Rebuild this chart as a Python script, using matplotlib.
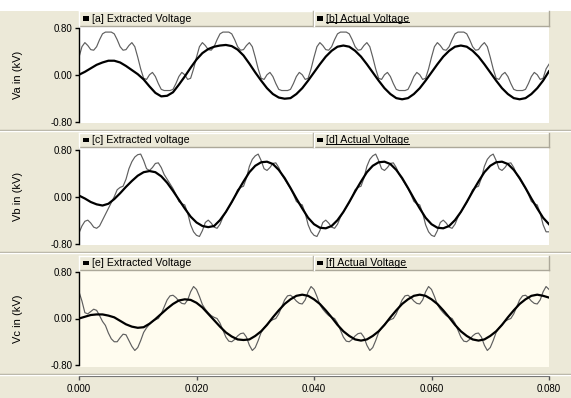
import numpy as np
import matplotlib
matplotlib.use('Agg')
import matplotlib.pyplot as plt
from matplotlib.patches import Rectangle
from matplotlib.lines import Line2D

plt.rcParams['font.family'] = ['Liberation Sans', 'DejaVu Sans']

# sample times in ms: distorted traces every 0.5 ms, smooth traces every 1 ms
t_fine = np.arange(0, 80.25, 0.5)
t_coarse = np.arange(0, 80.5, 1.0)

# ---- Va (kV) ----
va_thin = [
    0.30, 0.48, 0.55, 0.50, 0.43, 0.42, 0.48, 0.60, 0.70, 0.73,
    0.73, 0.73, 0.70, 0.60, 0.48, 0.42, 0.43, 0.50, 0.55, 0.48,
    0.30, 0.10, -0.06, -0.08, 0.00, 0.04, -0.03, -0.15, -0.25, -0.27,
    -0.27, -0.27, -0.25, -0.15, -0.03, 0.04, 0.00, -0.08, -0.06, 0.10,
    0.30, 0.48, 0.55, 0.50, 0.43, 0.42, 0.48, 0.60, 0.70, 0.73,
    0.73, 0.73, 0.70, 0.60, 0.48, 0.42, 0.43, 0.50, 0.55, 0.48,
    0.30, 0.10, -0.06, -0.08, 0.00, 0.04, -0.03, -0.15, -0.25, -0.27,
    -0.27, -0.27, -0.25, -0.15, -0.03, 0.04, 0.00, -0.08, -0.06, 0.10,
    0.30, 0.48, 0.55, 0.50, 0.43, 0.42, 0.48, 0.60, 0.70, 0.73,
    0.73, 0.73, 0.70, 0.60, 0.48, 0.42, 0.43, 0.50, 0.55, 0.48,
    0.30, 0.10, -0.06, -0.08, 0.00, 0.04, -0.03, -0.15, -0.25, -0.27,
    -0.27, -0.27, -0.25, -0.15, -0.03, 0.04, 0.00, -0.08, -0.06, 0.10,
    0.30, 0.48, 0.55, 0.50, 0.43, 0.42, 0.48, 0.60, 0.70, 0.73,
    0.73, 0.73, 0.70, 0.60, 0.48, 0.42, 0.43, 0.50, 0.55, 0.48,
    0.30, 0.10, -0.06, -0.08, 0.00, 0.04, -0.03, -0.15, -0.25, -0.27,
    -0.27, -0.27, -0.25, -0.15, -0.03, 0.04, 0.00, -0.08, -0.06, 0.10,
    0.18]
va_thick = [
    0.00, 0.05, 0.11, 0.17, 0.21, 0.24, 0.24, 0.21, 0.15, 0.08,
    0.01, -0.08, -0.20, -0.31, -0.37, -0.36, -0.30, -0.17, -0.03, 0.12,
    0.26, 0.37, 0.44, 0.48, 0.50, 0.51, 0.49, 0.43, 0.33, 0.19,
    0.04, -0.10, -0.23, -0.33, -0.39, -0.41, -0.40, -0.33, -0.23, -0.10,
    0.04, 0.18, 0.31, 0.41, 0.48, 0.50, 0.48, 0.41, 0.31, 0.18,
    0.04, -0.10, -0.23, -0.33, -0.40, -0.42, -0.40, -0.33, -0.23, -0.10,
    0.04, 0.18, 0.31, 0.41, 0.48, 0.50, 0.48, 0.41, 0.31, 0.18,
    0.04, -0.10, -0.23, -0.33, -0.40, -0.42, -0.40, -0.33, -0.23, -0.10,
    0.06]

# ---- Vb (kV) ----
vb_thin = [
    -0.62, -0.50, -0.42, -0.40, -0.45, -0.52, -0.54, -0.50, -0.40, -0.30,
    -0.20, -0.10, 0.00, 0.12, 0.16, 0.18, 0.30, 0.48, 0.60, 0.68,
    0.72, 0.73, 0.62, 0.48, 0.45, 0.50, 0.57, 0.58, 0.50, 0.38,
    0.30, 0.22, 0.14, 0.04, -0.08, -0.12, -0.14, -0.28, -0.48, -0.60,
    -0.66, -0.68, -0.58, -0.44, -0.40, -0.45, -0.52, -0.54, -0.47, -0.35,
    -0.26, -0.18, -0.10, 0.00, 0.12, 0.16, 0.18, 0.32, 0.52, 0.64,
    0.70, 0.73, 0.62, 0.48, 0.45, 0.50, 0.57, 0.58, 0.50, 0.38,
    0.30, 0.22, 0.14, 0.04, -0.08, -0.12, -0.14, -0.28, -0.48, -0.60,
    -0.66, -0.68, -0.58, -0.44, -0.40, -0.45, -0.52, -0.54, -0.47, -0.35,
    -0.26, -0.18, -0.10, 0.00, 0.12, 0.16, 0.18, 0.32, 0.52, 0.64,
    0.70, 0.73, 0.62, 0.48, 0.45, 0.50, 0.57, 0.58, 0.50, 0.38,
    0.30, 0.22, 0.14, 0.04, -0.08, -0.12, -0.14, -0.28, -0.48, -0.60,
    -0.66, -0.68, -0.58, -0.44, -0.40, -0.45, -0.52, -0.54, -0.47, -0.35,
    -0.26, -0.18, -0.10, 0.00, 0.12, 0.16, 0.18, 0.32, 0.52, 0.64,
    0.70, 0.73, 0.62, 0.48, 0.45, 0.50, 0.57, 0.58, 0.50, 0.38,
    0.30, 0.22, 0.14, 0.04, -0.08, -0.12, -0.14, -0.28, -0.48, -0.60,
    -0.60]
vb_thick = [
    0.02, -0.03, -0.09, -0.13, -0.15, -0.12, -0.04, 0.06, 0.17, 0.27,
    0.36, 0.42, 0.44, 0.42, 0.35, 0.24, 0.10, -0.05, -0.20, -0.34,
    -0.44, -0.50, -0.52, -0.50, -0.40, -0.26, -0.09, 0.09, 0.26, 0.42,
    0.53, 0.59, 0.60, 0.56, 0.46, 0.32, 0.15, -0.03, -0.20, -0.36,
    -0.47, -0.53, -0.54, -0.50, -0.40, -0.26, -0.09, 0.09, 0.26, 0.42,
    0.53, 0.59, 0.60, 0.56, 0.46, 0.32, 0.15, -0.03, -0.20, -0.36,
    -0.47, -0.53, -0.54, -0.50, -0.40, -0.26, -0.09, 0.09, 0.26, 0.42,
    0.53, 0.59, 0.60, 0.56, 0.46, 0.32, 0.15, -0.03, -0.20, -0.36,
    -0.47]

# ---- Vc (kV) ----
vc_thin = [
    0.46, 0.30, 0.10, 0.08, 0.12, 0.16, 0.14, 0.05, -0.05, -0.12,
    -0.25, -0.35, -0.40, -0.40, -0.33, -0.27, -0.28, -0.38, -0.48, -0.55,
    -0.50, -0.38, -0.24, -0.16, -0.10, -0.05, -0.02, 0.00, 0.08, 0.20,
    0.32, 0.39, 0.40, 0.36, 0.30, 0.26, 0.25, 0.32, 0.46, 0.55,
    0.50, 0.38, 0.24, 0.16, 0.10, 0.05, 0.02, 0.00, -0.08, -0.20,
    -0.32, -0.39, -0.40, -0.36, -0.30, -0.26, -0.25, -0.32, -0.46, -0.55,
    -0.50, -0.38, -0.24, -0.16, -0.10, -0.05, -0.02, 0.00, 0.08, 0.20,
    0.32, 0.39, 0.40, 0.36, 0.30, 0.26, 0.25, 0.32, 0.46, 0.55,
    0.50, 0.38, 0.24, 0.16, 0.10, 0.05, 0.02, 0.00, -0.08, -0.20,
    -0.32, -0.39, -0.40, -0.36, -0.30, -0.26, -0.25, -0.32, -0.46, -0.55,
    -0.50, -0.38, -0.24, -0.16, -0.10, -0.05, -0.02, 0.00, 0.08, 0.20,
    0.32, 0.39, 0.40, 0.36, 0.30, 0.26, 0.25, 0.32, 0.46, 0.55,
    0.50, 0.38, 0.24, 0.16, 0.10, 0.05, 0.02, 0.00, -0.08, -0.20,
    -0.32, -0.39, -0.40, -0.36, -0.30, -0.26, -0.25, -0.32, -0.46, -0.55,
    -0.50, -0.38, -0.24, -0.16, -0.10, -0.05, -0.02, 0.00, 0.08, 0.20,
    0.32, 0.39, 0.40, 0.36, 0.30, 0.26, 0.25, 0.32, 0.46, 0.55,
    0.50]
vc_thick = [
    0.00, 0.03, 0.06, 0.07, 0.07, 0.05, 0.02, -0.04, -0.10, -0.14,
    -0.16, -0.15, -0.09, -0.01, 0.08, 0.17, 0.25, 0.31, 0.33, 0.32,
    0.27, 0.19, 0.08, -0.03, -0.14, -0.24, -0.31, -0.36, -0.37, -0.36,
    -0.30, -0.22, -0.11, 0.02, 0.14, 0.25, 0.33, 0.39, 0.41, 0.39,
    0.33, 0.25, 0.14, 0.02, -0.11, -0.22, -0.30, -0.36, -0.38, -0.36,
    -0.30, -0.22, -0.11, 0.02, 0.14, 0.25, 0.33, 0.39, 0.41, 0.39,
    0.33, 0.25, 0.14, 0.02, -0.11, -0.22, -0.30, -0.36, -0.38, -0.36,
    -0.30, -0.22, -0.11, 0.02, 0.14, 0.25, 0.33, 0.39, 0.41, 0.39,
    0.36]

y_labels = ['Va in (kV)', 'Vb in (kV)', 'Vc in (kV)']
legend_left = ['[a] Extracted Voltage', '[c] Extracted voltage', '[e] Extracted Voltage']
legend_right = ['[b] Actual Voltage', '[d] Actual Voltage', '[f] Actual Voltage']
x_ticks = [0.0, 0.02, 0.04, 0.06, 0.08]
x_ticklabels = ['0.000', '0.020', '0.040', '0.060', '0.080']

W, H = 571, 398
BEIGE = '#ECE9D8'
SHADOW = '#ACA899'


def fx(px):
    return px / W


def fy(py):
    return 1 - py / H


def hline(py, x0, x1, color, lw=1.0):
    fig.add_artist(Line2D([fx(x0), fx(x1)], [fy(py), fy(py)], color=color, lw=lw))


def vline(px, y0, y1, color, lw=1.0):
    fig.add_artist(Line2D([fx(px), fx(px)], [fy(y0), fy(y1)], color=color, lw=lw))


fig = plt.figure(figsize=(5.71, 3.98), dpi=100, facecolor=BEIGE)
fig.add_artist(Rectangle((0, fy(10.5)), 1, 1 - fy(10.5), transform=fig.transFigure,
                         facecolor='white', edgecolor='none', zorder=0))

# strip top, strip bottom, area top, y(0.8), y(-0.8), area bottom, background
layout = [
    (11, 26, 26, 28, 121.5, 123, 'white'),
    (133, 147, 147, 150, 243.5, 245, 'white'),
    (256, 270, 270, 272, 365, 367, '#FFFCEF'),
]
series = [(va_thin, va_thick), (vb_thin, vb_thick), (vc_thin, vc_thick)]

underlined = []
for i, (s_top, s_bot, a_top, y_hi, y_lo, a_bot, bg) in enumerate(layout):
    thin, thick = series[i]
    k = 1.6 / (y_lo - y_hi)
    ax = fig.add_axes([fx(79), fy(a_bot), fx(549) - fx(79), fy(a_top) - fy(a_bot)])
    ax.set_facecolor(bg)
    ax.plot(t_fine / 1000, thin, color='#5f5f5f', lw=0.85)
    ax.plot(t_coarse / 1000, thick, color='black', lw=1.6)
    ax.set_xlim(0, 0.08)
    ax.set_ylim(-0.8 - (a_bot - y_lo) * k, 0.8 + (y_hi - a_top) * k)
    for side in ['top', 'right', 'bottom']:
        ax.spines[side].set_visible(False)
    ax.spines['left'].set_bounds(-0.8, 0.8)
    ax.spines['left'].set_linewidth(1.0)
    ax.set_xticks([])
    ax.set_yticks([-0.8, 0.0, 0.8])
    ax.set_yticklabels(['-0.80', '0.00', '0.80'])
    ax.tick_params(axis='y', length=3, width=1, labelsize=7, pad=1.5)

    fig.text(fx(18), fy((y_hi + y_lo) / 2), y_labels[i], rotation=90,
             ha='center', va='center', fontsize=8)

    # legend strip above the plot area
    fig.add_artist(Rectangle((fx(79), fy(s_bot)), fx(549) - fx(79), fy(s_top) - fy(s_bot),
                             transform=fig.transFigure, facecolor=BEIGE, edgecolor='none'))
    hline(s_top, 79, 549, 'white')
    hline(s_bot, 79, 549, SHADOW)
    vline(79, s_top, s_bot, 'white')
    vline(549, s_top, s_bot, SHADOW)
    vline(313, s_top, s_bot, SHADOW)
    vline(314, s_top, s_bot, 'white')
    mid = (s_top + s_bot) / 2
    for x0, label, ul in [(83, legend_left[i], False), (317, legend_right[i], True)]:
        fig.add_artist(Rectangle((fx(x0), fy(mid + 2)), fx(6), 4 / H,
                                 transform=fig.transFigure, facecolor='black',
                                 edgecolor='none'))
        txt = fig.text(fx(x0 + 9), fy(mid), label, ha='left', va='center', fontsize=7.7)
        if ul:
            underlined.append(txt)

    # separator below each panel
    sep = a_bot + 6.5
    hline(sep, 0, W, SHADOW)
    hline(sep + 1, 0, W, 'white')

# shared time axis
axx = fig.add_axes([fx(79), fy(376), fx(549) - fx(79), 0.002])
axx.patch.set_visible(False)
for side in ['top', 'right', 'left']:
    axx.spines[side].set_visible(False)
axx.spines['bottom'].set_color('#555555')
axx.set_xlim(0, 0.08)
axx.set_yticks([])
axx.set_xticks(x_ticks)
axx.set_xticklabels(x_ticklabels)
axx.tick_params(axis='x', length=3, width=1, color='#555555', labelsize=7, pad=3)

renderer = fig.canvas.get_renderer()
for txt in underlined:
    bb = txt.get_window_extent(renderer)
    fig.add_artist(Line2D([bb.x0 / W, bb.x1 / W], [(bb.y0 + 1.5) / H] * 2,
                          color='black', lw=0.7))

fig.savefig('out.png', dpi=100, facecolor=fig.get_facecolor())
